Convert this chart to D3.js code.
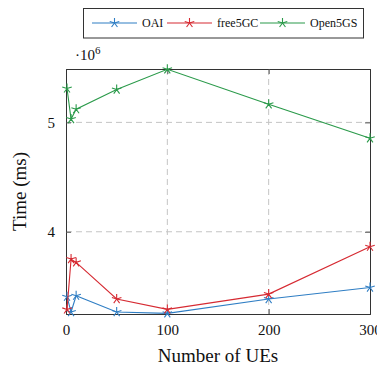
<!DOCTYPE html>
<html>
<head>
<meta charset="utf-8">
<script src="https://cdn.jsdelivr.net/npm/d3@7"></script>
<style>
  body { margin: 0; background: #fff; }
  svg text { font-family: "Liberation Serif", "DejaVu Serif", serif !important; fill: #111; }
</style>
</head>
<body>
<svg id="chart" width="377" height="369"></svg>
<script>
const ues = [1, 5, 10, 50, 100, 200, 300];
const oai = [3.406, 3.266, 3.415, 3.266, 3.254, 3.385, 3.49];
const free5gc = [3.29, 3.75, 3.72, 3.385, 3.29, 3.43, 3.863];
const open5gs = [5.31, 5.03, 5.12, 5.30, 5.485, 5.165, 4.854];
const seriesNames = ['OAI', 'free5GC', 'Open5GS'];
const seriesColors = ['#2f7ec4', '#d62a32', '#2a9a4a'];
const xTicks = [0, 100, 200, 300];
const yTicks = [4, 5];

const margin = { top: 69, right: 7, bottom: 55, left: 66 };
const width = 377, height = 369;
const svg = d3.select('#chart');

const x = d3.scaleLinear().domain([0, 300]).range([margin.left, width - margin.right]);
const y = d3.scaleLinear().domain([3.248, 5.488]).range([height - margin.bottom, margin.top]);

const series = [oai, free5gc, open5gs].map((vals, i) => ({
  name: seriesNames[i],
  color: seriesColors[i],
  points: vals.map((v, j) => ({ x: ues[j], y: v }))
}));

// grid
const grid = svg.append('g').attr('stroke', '#c4c4c4').attr('stroke-dasharray', '6,4').attr('stroke-width', 1);
grid.selectAll('.gx').data(xTicks.filter(t => t > 0 && t < 300)).enter().append('line')
  .attr('x1', d => x(d)).attr('x2', d => x(d))
  .attr('y1', y.range()[1]).attr('y2', y.range()[0]);
grid.selectAll('.gy').data(yTicks).enter().append('line')
  .attr('x1', x.range()[0]).attr('x2', x.range()[1])
  .attr('y1', d => y(d)).attr('y2', d => y(d));

// axes with inside ticks
const xAxis = d3.axisBottom(x).tickValues(xTicks).tickSize(-5).tickPadding(10).tickFormat(d3.format('d'));
svg.append('g').attr('transform', `translate(0,${y.range()[0]})`).call(xAxis);
const xTop = d3.axisTop(x).tickValues(xTicks).tickSize(-5).tickFormat('');
svg.append('g').attr('transform', `translate(0,${y.range()[1]})`).call(xTop);
const yAxis = d3.axisLeft(y).tickValues(yTicks).tickSize(-5).tickPadding(11).tickFormat(d3.format('d'));
svg.append('g').attr('transform', `translate(${x.range()[0]},0)`).call(yAxis);
const yRight = d3.axisRight(y).tickValues(yTicks).tickSize(-5).tickFormat('');
svg.append('g').attr('transform', `translate(${x.range()[1]},0)`).call(yRight);

svg.selectAll('.domain').attr('stroke', '#333');
svg.selectAll('.tick line').attr('stroke', '#555');
svg.selectAll('.tick text').attr('font-size', 15).attr('fill', '#111');

// lines and markers
const line = d3.line().x(d => x(d.x)).y(d => y(d.y));
const starPath = (r) => {
  let p = '';
  for (let k = 0; k < 5; k++) {
    const a = (-90 + k * 72) * Math.PI / 180;
    p += `M0,0L${(r * Math.cos(a)).toFixed(2)},${(r * Math.sin(a)).toFixed(2)}`;
  }
  return p;
};

series.forEach(s => {
  svg.append('path').datum(s.points)
    .attr('fill', 'none').attr('stroke', s.color).attr('stroke-width', 1.1)
    .attr('d', line);
  svg.selectAll(null).data(s.points).enter().append('path')
    .attr('transform', d => `translate(${x(d.x)},${y(d.y)})`)
    .attr('d', starPath(5))
    .attr('stroke', s.color).attr('stroke-width', 1.1).attr('fill', 'none');
});

// scale factor label
const sf = svg.append('text').attr('x', 75).attr('y', 60).attr('font-size', 15);
sf.append('tspan').text('\u00b710');
sf.append('tspan').attr('dy', -6).attr('font-size', 11).text('6');

// axis labels
svg.append('text').attr('x', (x.range()[0] + x.range()[1]) / 2).attr('y', 362)
  .attr('text-anchor', 'middle').attr('font-size', 19).text('Number of UEs');
svg.append('text').attr('transform', `translate(26,${(y.range()[0] + y.range()[1]) / 2}) rotate(-90)`)
  .attr('text-anchor', 'middle').attr('font-size', 19).text('Time (ms)');

// legend
const legend = svg.append('g');
legend.append('rect').attr('x', 83.5).attr('y', 8.5).attr('width', 280).attr('height', 29.5)
  .attr('fill', '#fff').attr('stroke', '#333').attr('stroke-width', 1);
const legendX = [92, 167, 260];
series.forEach((s, i) => {
  const lx = legendX[i];
  legend.append('line').attr('x1', lx).attr('x2', lx + 45).attr('y1', 23).attr('y2', 23)
    .attr('stroke', s.color).attr('stroke-width', 1.1);
  legend.append('path').attr('transform', `translate(${lx + 22.5},23)`).attr('d', starPath(5))
    .attr('stroke', s.color).attr('stroke-width', 1.1).attr('fill', 'none');
  legend.append('text').attr('x', lx + 50).attr('y', 27).attr('font-size', 12).text(s.name);
});
</script>
</body>
</html>
